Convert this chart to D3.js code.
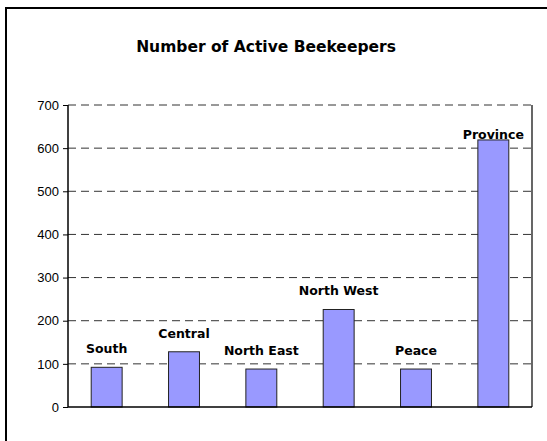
<!DOCTYPE html>
<html>
<head>
<meta charset="utf-8">
<script src="https://cdn.jsdelivr.net/npm/d3@7"></script>
<style>
  body { margin: 0; background: #fff; }
</style>
</head>
<body>
<div id="chart"></div>
<script>
// datos de la gráfica
const regions = ["South", "Central", "North East", "North West", "Peace", "Province"];
const beekeepers = [92, 128, 88, 226, 88, 619];
const yTicks = [0, 100, 200, 300, 400, 500, 600, 700];
const titleText = "Number of Active Beekeepers";

const W = 547, H = 441;
const margin = { top: 105, right: 15, bottom: 34, left: 68 };
const width = W - margin.left - margin.right;
const height = H - margin.top - margin.bottom;

const svg = d3.select("#chart")
    .append("svg")
    .attr("width", W)
    .attr("height", H);

// marco exterior
svg.append("rect")
    .attr("x", 6).attr("y", 8)
    .attr("width", W + 10).attr("height", H + 10)
    .attr("fill", "#fff")
    .attr("stroke", "#000")
    .attr("stroke-width", 2);

svg.append("text")
    .attr("x", 266)
    .attr("y", 52)
    .attr("text-anchor", "middle")
    .style("font-family", "'Comic Sans MS', 'DejaVu Sans', sans-serif")
    .style("font-weight", "bold")
    .style("font-size", "15.5px")
    .text(titleText);

const g = svg.append("g")
    .attr("transform", `translate(${margin.left},${margin.top})`);

const x = d3.scaleBand()
    .domain(regions)
    .range([0, width])
    .paddingInner(0.6)
    .paddingOuter(0.3);

const y = d3.scaleLinear()
    .domain([0, 700])
    .range([height, 0]);

// líneas de rejilla
g.selectAll(".grid")
    .data(yTicks.filter(d => d > 0))
    .enter()
    .append("line")
    .attr("x1", 0).attr("x2", width)
    .attr("y1", d => y(d)).attr("y2", d => y(d))
    .attr("stroke", "#333")
    .attr("stroke-width", 1)
    .attr("stroke-dasharray", "8,5");

// eje y
const yAxis = d3.axisLeft(y).tickValues(yTicks).tickSize(5).tickPadding(4);
g.append("g")
    .call(yAxis)
    .call(a => a.select(".domain").remove())
    .call(a => a.selectAll("text")
        .style("font-family", "'Liberation Sans', Arial, sans-serif")
        .style("font-size", "13px")
        .attr("fill", "#000"));

// barras
g.selectAll(".bar")
    .data(beekeepers)
    .enter()
    .append("rect")
    .attr("class", "bar")
    .attr("x", (d, i) => x(regions[i]))
    .attr("y", d => y(d))
    .attr("width", x.bandwidth())
    .attr("height", d => height - y(d))
    .attr("fill", "#9999FF")
    .attr("stroke", "#222")
    .attr("stroke-width", 1);

// borde del área de trazado
g.append("line").attr("x1", 0).attr("x2", 0).attr("y1", 0).attr("y2", height)
    .attr("stroke", "#000").attr("stroke-width", 1.5);
g.append("line").attr("x1", 0).attr("x2", width).attr("y1", height).attr("y2", height)
    .attr("stroke", "#000").attr("stroke-width", 1.5);
g.append("line").attr("x1", width).attr("x2", width).attr("y1", 0).attr("y2", height)
    .attr("stroke", "#000").attr("stroke-width", 1.2);

// etiquetas encima de las barras
g.selectAll(".lbl")
    .data(beekeepers)
    .enter()
    .append("text")
    .attr("x", (d, i) => x(regions[i]) + x.bandwidth() / 2)
    .attr("y", d => Math.max(y(d) - 14, 34))
    .attr("text-anchor", "middle")
    .style("font-family", "'Comic Sans MS', 'DejaVu Sans', sans-serif")
    .style("font-weight", "bold")
    .style("font-size", "12.5px")
    .text((d, i) => regions[i]);
</script>
</body>
</html>
